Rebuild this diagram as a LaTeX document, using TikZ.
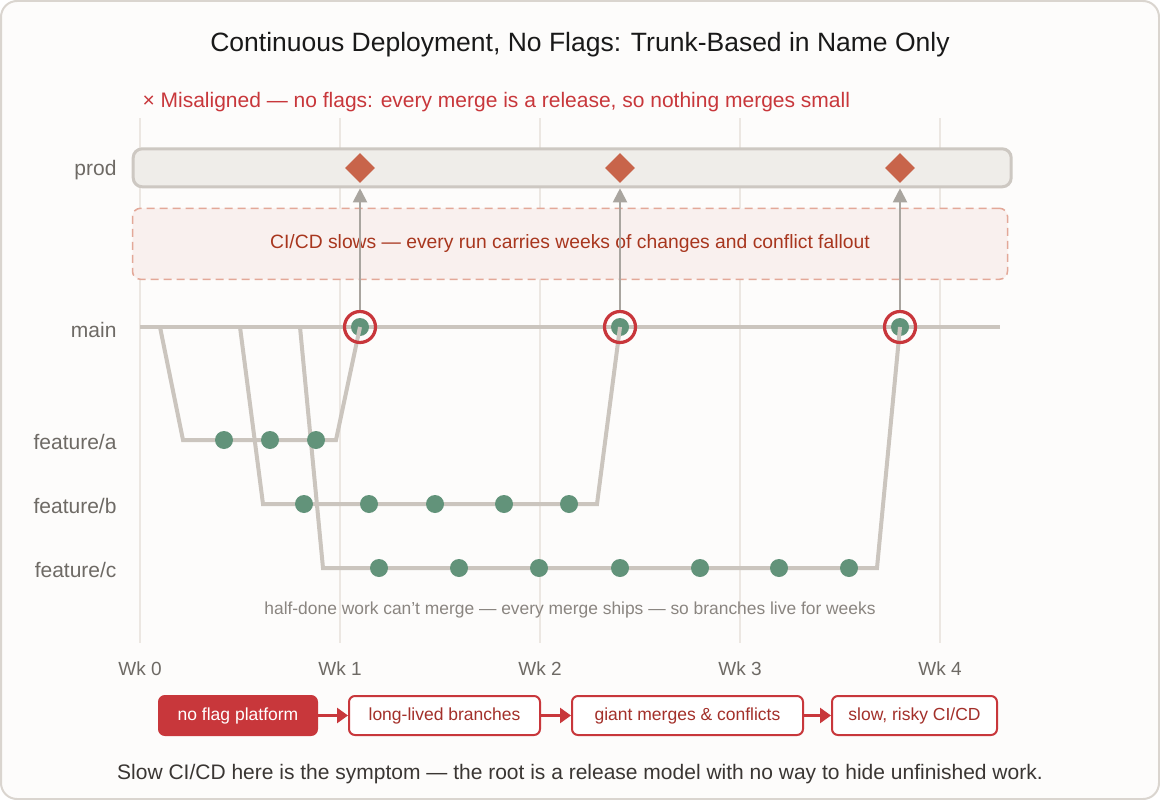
\documentclass[tikz,border=0pt]{standalone}
\usepackage{fontspec}
\setmainfont{Liberation Sans}
\usetikzlibrary{positioning,arrows.meta,shapes.geometric}
\definecolor{paperColor}{RGB}{253,252,251}
\definecolor{frameColor}{RGB}{218,213,207}
\definecolor{gridColor}{RGB}{236,231,226}
\definecolor{prodFill}{RGB}{239,237,233}
\definecolor{prodEdge}{RGB}{205,200,194}
\definecolor{releaseColor}{RGB}{200,100,74}
\definecolor{slowFill}{RGB}{249,240,238}
\definecolor{slowEdge}{RGB}{227,168,152}
\definecolor{slowText}{RGB}{168,54,30}
\definecolor{lineColor}{RGB}{203,197,190}
\definecolor{arrowColor}{RGB}{169,165,159}
\definecolor{ringColor}{RGB}{200,54,59}
\definecolor{commitColor}{RGB}{98,147,122}
\definecolor{labelColor}{RGB}{110,106,101}
\definecolor{noteColor}{RGB}{138,133,128}
\definecolor{alertRed}{RGB}{200,55,59}
\definecolor{chainText}{RGB}{163,48,42}
\definecolor{captionColor}{RGB}{58,54,51}
\tikzstyle{chart} = [x=1pt, y=-1pt]
\tikzstyle{frameStyle} = [draw=frameColor, fill=paperColor, line width=2pt, rounded corners=16pt]
\tikzstyle{gridLine} = [color=gridColor, line width=2pt]
\tikzstyle{laneLabel} = [anchor=east, text=labelColor, font=\fontsize{21}{25}\selectfont]
\tikzstyle{weekLabel} = [text=labelColor, font=\fontsize{19}{23}\selectfont]
\tikzstyle{prodBarStyle} = [draw=prodEdge, fill=prodFill, line width=3pt, rounded corners=9pt, minimum width=878pt, minimum height=38pt, inner sep=0pt]
\tikzstyle{releaseDiamond} = [diamond, fill=releaseColor, minimum size=30pt, inner sep=0pt]
\tikzstyle{slowBoxStyle} = [draw=slowEdge, fill=slowFill, dash pattern=on 8pt off 5pt, line width=1.5pt, rounded corners=8pt, minimum width=875pt, minimum height=71pt, text=slowText, font=\fontsize{19.3}{23}\selectfont]
\tikzstyle{trunkLine} = [color=lineColor, line width=4pt]
\tikzstyle{branchLine} = [color=lineColor, line width=4pt]
\tikzstyle{commitDot} = [circle, fill=commitColor, minimum size=18pt, inner sep=0pt]
\tikzstyle{mergeRing} = [circle, draw=ringColor, line width=3.2pt, minimum size=31pt, inner sep=0pt]
\tikzstyle{deployArrow} = [color=arrowColor, line width=2pt, -{Triangle[length=14pt, width=14pt]}]
\tikzstyle{chainBox} = [draw=alertRed, line width=2pt, fill=white, rounded corners=6pt, minimum height=39pt, inner xsep=0pt, text=chainText, font=\fontsize{17.5}{21}\selectfont]
\tikzstyle{chainRoot} = [chainBox, fill=alertRed, text=white]
\tikzstyle{chainArrow} = [color=alertRed, line width=3pt, -{Triangle[length=11pt, width=15pt]}]

\begin{document}
\begin{tikzpicture}[chart]
  \useasboundingbox (0,0) rectangle (1160,800);
  \filldraw [frameStyle] (1,1) rectangle (1159,799);

  \node [font=\fontsize{26.5}{30}\selectfont, text=black!90] (title) at (580,45) {Continuous Deployment, No Flags: Trunk-Based in Name Only};
  \node [anchor=west, font=\fontsize{21}{25}\selectfont, text=alertRed] (verdict) at (139,102) {× Misaligned — no flags: every merge is a release, so nothing merges small};

  % weeks
  \foreach \wk in {0,...,4} {
    \draw [gridLine] (140 + 200 * \wk, 118) -- (140 + 200 * \wk, 643);
    \node [weekLabel] (week\wk) at (140 + 200 * \wk, 669) {Wk \wk};
  }

  % prod lane
  \node [prodBarStyle] (prodBar) at (572.2,167.8) {};
  \node [laneLabel] (prodLabel) at (120,170) {prod};
  \foreach \x [count=\i] in {360,620,900} {
    \node [releaseDiamond] (release\i) at (\x,168) {};
  }

  \node [slowBoxStyle] (slowBox) at (570,243.8) {CI/CD slows — every run carries weeks of changes and conflict fallout};

  % main
  \node [laneLabel] (mainLabel) at (120,330) {main};
  \coordinate (mainStart) at (140,327);
  \coordinate (mainEnd) at (1000,327);
  \draw [trunkLine] (mainStart) -- (mainEnd);

  % feature branches
  \node [laneLabel] (labelA) at (120,442) {feature/a};
  \node [laneLabel] (labelB) at (120,506) {feature/b};
  \node [laneLabel] (labelC) at (120,570) {feature/c};

  \coordinate (forkA) at (160,327);
  \coordinate (forkB) at (240,327);
  \coordinate (forkC) at (300,327);
  \coordinate (laneA) at (183,440);
  \coordinate (laneB) at (263,504);
  \coordinate (laneC) at (323,568);
  \coordinate (tipA) at (336,440);
  \coordinate (tipB) at (597,504);
  \coordinate (tipC) at (877,568);

  \node [commitDot] (mergeDotA) at (360,327) {};
  \node [commitDot] (mergeDotB) at (620,327) {};
  \node [commitDot] (mergeDotC) at (900,327) {};

  \draw [branchLine] (forkA) -- (laneA) -- (tipA) -- (mergeDotA.center);
  \draw [branchLine] (forkB) -- (laneB) -- (tipB) -- (mergeDotB.center);
  \draw [branchLine] (forkC) -- (laneC) -- (tipC) -- (mergeDotC.center);

  \foreach \x [count=\i] in {224,270,316} {
    \node [commitDot] (commitA\i) at (\x,440) {};
  }
  \foreach \x [count=\i] in {304,369,435,504,569} {
    \node [commitDot] (commitB\i) at (\x,504) {};
  }
  \foreach \x [count=\i] in {379,459,539,620,700,779,849} {
    \node [commitDot] (commitC\i) at (\x,568) {};
  }

  \node [mergeRing] (mergeA) at (mergeDotA) {};
  \node [mergeRing] (mergeB) at (mergeDotB) {};
  \node [mergeRing] (mergeC) at (mergeDotC) {};

  \draw [deployArrow] (mergeA.north) -- (mergeA.north |- prodBar.south);
  \draw [deployArrow] (mergeB.north) -- (mergeB.north |- prodBar.south);
  \draw [deployArrow] (mergeC.north) -- (mergeC.north |- prodBar.south);

  \node [text=noteColor, font=\fontsize{17.4}{21}\selectfont] (note) at (570,610) {half-done work can't merge — every merge ships — so branches live for weeks};

  % root cause chain
  \node [chainRoot, minimum width=158pt] (noFlags) at (238,715.5) {no flag platform};
  \node [chainBox, minimum width=191pt, right=30pt of noFlags] (longBranches) {long-lived branches};
  \node [chainBox, minimum width=231pt, right=30pt of longBranches] (giantMerges) {giant merges \& conflicts};
  \node [chainBox, minimum width=165pt, right=27pt of giantMerges] (slowCicd) {slow, risky CI/CD};
  \draw [chainArrow] (noFlags) -- (longBranches);
  \draw [chainArrow] (longBranches) -- (giantMerges);
  \draw [chainArrow] (giantMerges) -- (slowCicd);

  \node [text=captionColor, font=\fontsize{21}{25}\selectfont] (caption) at (580,774) {Slow CI/CD here is the symptom — the root is a release model with no way to hide unfinished work.};
\end{tikzpicture}
\end{document}
